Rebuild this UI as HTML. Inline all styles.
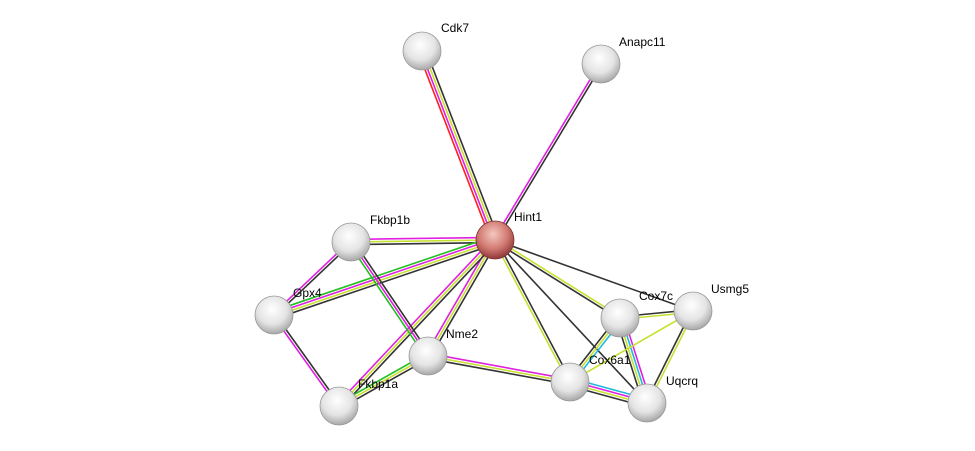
<!DOCTYPE html>
<html><head><meta charset="utf-8"><style>
html,body{margin:0;padding:0;background:#fff;width:975px;height:451px;overflow:hidden}
svg text{font-family:"Liberation Sans",sans-serif;font-size:12px;fill:#000}
</style></head><body>
<svg id="s" width="975" height="451" xmlns="http://www.w3.org/2000/svg">
<defs>
<radialGradient id="g" cx="45%" cy="35%" r="65%">
<stop offset="0" stop-color="#fff"/><stop offset="0.6" stop-color="#e4e4e4"/><stop offset="1" stop-color="#a8a8a8"/></radialGradient>
<radialGradient id="r" cx="45%" cy="35%" r="65%">
<stop offset="0" stop-color="#f4c8c0"/><stop offset="0.6" stop-color="#d07870"/><stop offset="1" stop-color="#903838"/></radialGradient>
</defs>
<g id="e"></g><g id="n"></g>
</svg>
<script>
var N={Cdk7:[422,51],Anapc11:[601,64],Hint1:[495,240],Fkbp1b:[351,242],Gpx4:[274,315],Nme2:[428,356],Fkbp1a:[339,406],Cox7c:[620,318],Usmg5:[693,311],Cox6a1:[570,382],Uqcrq:[647,403]};
var K='#333',Y='#c8e030',M='#e020e0',G='#20c020',C='#20b8e0',R='#ff2020';
var E=[['Hint1','Cdk7',[R,M,Y,K]],['Hint1','Anapc11',[M,K]],['Hint1','Fkbp1b',[K,Y,M]],['Hint1','Gpx4',[K,Y,M,G]],
['Hint1','Nme2',[K,Y,M]],['Hint1','Fkbp1a',[K,Y,M]],['Hint1','Cox7c',[Y,K]],['Hint1','Usmg5',[K]],['Hint1','Cox6a1',[K,Y]],['Hint1','Uqcrq',[K]],
['Fkbp1b','Gpx4',[K,M]],['Fkbp1b','Nme2',[K,M,G]],['Gpx4','Fkbp1a',[K,M]],['Nme2','Fkbp1a',[K,Y,G]],['Nme2','Cox6a1',[M,Y,K]],
['Cox7c','Usmg5',[K,Y]],['Cox7c','Cox6a1',[C,Y,K]],['Cox7c','Uqcrq',[M,C,Y,K]],['Cox6a1','Uqcrq',[C,M,Y,K]],['Usmg5','Uqcrq',[Y,K]],['Usmg5','Cox6a1',[Y]]];
var ns='http://www.w3.org/2000/svg',eg=document.getElementById('e'),ng=document.getElementById('n');
E.forEach(function(e){var a=N[e[0]],b=N[e[1]],dx=b[0]-a[0],dy=b[1]-a[1],L=Math.hypot(dx,dy),px=-dy/L,py=dx/L,c=e[2];
c.forEach(function(col,i){var o=(i-(c.length-1)/2)*2.6;var l=document.createElementNS(ns,'line');
l.setAttribute('x1',a[0]+px*o);l.setAttribute('y1',a[1]+py*o);l.setAttribute('x2',b[0]+px*o);l.setAttribute('y2',b[1]+py*o);
l.setAttribute('stroke',col);l.setAttribute('stroke-width','1.6');eg.appendChild(l);});});
var lab={Cdk7:[441,32],Anapc11:[619,46],Hint1:[514,221],Fkbp1b:[370,224],Gpx4:[293,297],Nme2:[446,338],Fkbp1a:[358,388],Cox7c:[639,300],Usmg5:[711,293],Cox6a1:[589,364],Uqcrq:[666,385]};
for(var k in N){var p=N[k];var c=document.createElementNS(ns,'circle');c.setAttribute('cx',p[0]);c.setAttribute('cy',p[1]);c.setAttribute('r',19);
c.setAttribute('fill',k=='Hint1'?'url(#r)':'url(#g)');c.setAttribute('stroke',k=='Hint1'?'#803030':'#999');c.setAttribute('stroke-width','0.8');ng.appendChild(c);
var t=document.createElementNS(ns,'text');t.setAttribute('x',lab[k][0]);t.setAttribute('y',lab[k][1]);t.textContent=k;ng.appendChild(t);}
</script>
</body></html>
